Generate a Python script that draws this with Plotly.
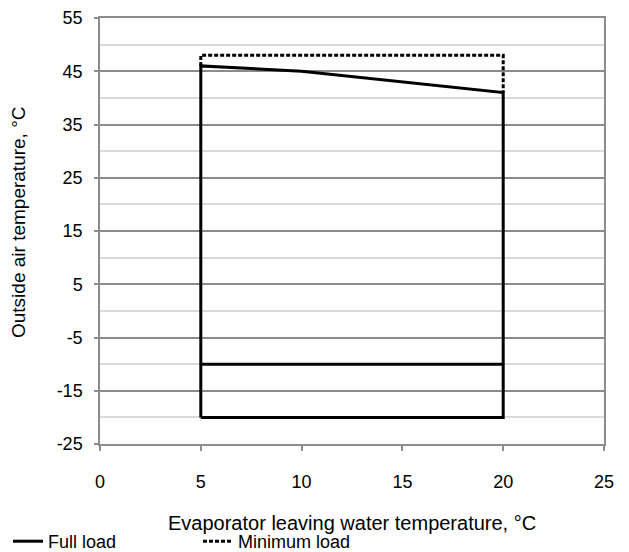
import plotly.graph_objects as go

# Full load envelope (evaporator leaving water temp, outside air temp)
full_x = [5, 5, 10, 20, 20, 5]
full_y = [-20, 46, 45, 41, -20, -20]
# Full load inner line
inner_x = [5, 20]
inner_y = [-10, -10]
# Minimum load envelope extension
min_x = [5, 5, 20, 20]
min_y = [46, 48, 48, 41]

x_ticks = [0, 5, 10, 15, 20, 25]
y_ticks = [-25, -15, -5, 5, 15, 25, 35, 45, 55]
y_tick_text = ["-25", "-15", "-5", "5", "15", "25", "35", "45", "55"]
x_title = "Evaporator leaving water temperature, °C"
y_title = "Outside air temperature, °C"

FONT = "Liberation Sans, Arial, sans-serif"
MAJOR = "#8c8c8c"
MINOR = "#d9d9d9"

fig = go.Figure()
fig.add_trace(go.Scatter(
    x=full_x + [None] + inner_x,
    y=full_y + [None] + inner_y,
    mode="lines", name="Full load",
    line=dict(color="black", width=3),
))
fig.add_trace(go.Scatter(
    x=min_x, y=min_y, mode="lines", name="Minimum load",
    line=dict(color="black", width=3, dash="4px,2px"),
))

fig.add_annotation(
    text=x_title, xref="paper", yref="paper", x=0.5, y=-79 / 426,
    xanchor="center", yanchor="middle", showarrow=False,
    font=dict(size=20, color="#000"),
)
fig.add_annotation(
    text=y_title, xref="paper", yref="paper", x=-81 / 504, y=221 / 426,
    xanchor="center", yanchor="middle", showarrow=False, textangle=-90,
    font=dict(size=19, color="#000"),
)

fig.update_layout(
    width=621, height=552,
    margin=dict(l=92, r=25, t=10, b=116),
    paper_bgcolor="white", plot_bgcolor="white",
    font=dict(family=FONT, size=18, color="#000"),
    showlegend=True,
    legend=dict(
        orientation="h", xref="container", yref="container",
        x=0, y=0, xanchor="left", yanchor="bottom",
        font=dict(size=18, color="#000"), itemwidth=30,
        entrywidth=145, entrywidthmode="pixels",
        bgcolor="rgba(0,0,0,0)",
    ),
    xaxis=dict(
        range=[0, 25], tickmode="array", tickvals=x_ticks,
        showgrid=False, zeroline=False, automargin=False,
        showline=True, linecolor=MAJOR, linewidth=1.5, mirror=True,
        ticks="outside", ticklen=5, tickcolor=MAJOR, tickwidth=1.5,
        tickfont=dict(size=18), ticklabelstandoff=16,
    ),
    yaxis=dict(
        range=[-25, 55], tickmode="array", tickvals=y_ticks,
        ticktext=y_tick_text,
        showgrid=True, gridcolor=MAJOR, gridwidth=1.5, zeroline=False,
        automargin=False,
        showline=True, linecolor=MAJOR, linewidth=1.5, mirror=True,
        ticks="outside", ticklen=4, tickcolor=MAJOR, tickwidth=1.5,
        tickfont=dict(size=18), ticklabelstandoff=8,
        minor=dict(tick0=-25, dtick=5, showgrid=True, gridcolor=MINOR,
                   gridwidth=1.5, ticks=""),
    ),
)

fig.write_html("out.html")
